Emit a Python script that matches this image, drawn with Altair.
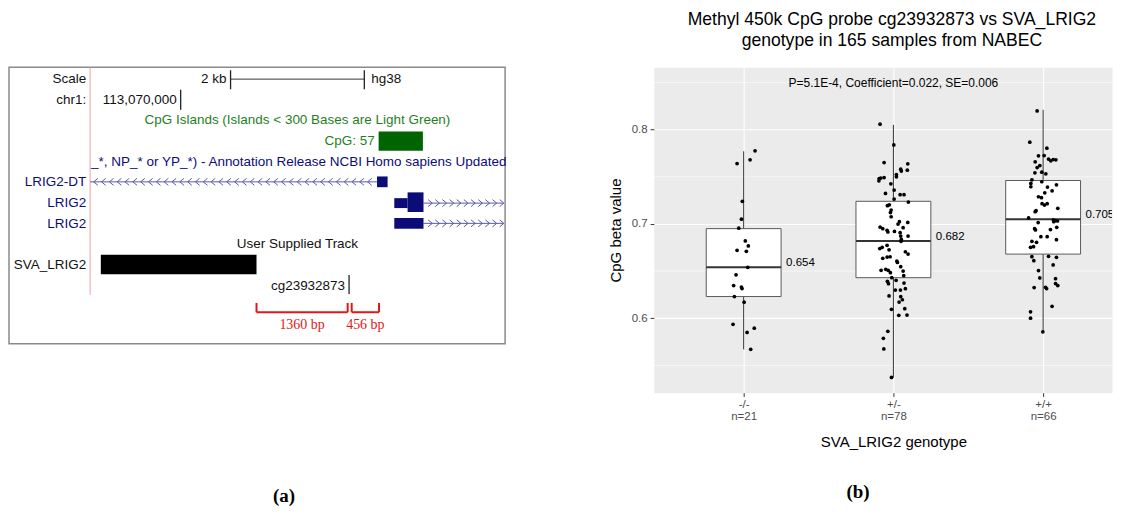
import altair as alt
import pandas as pd

# ======================= Panel (b): methylation boxplot =======================
genotypes = ["-/-", "+/-", "+/+"]
n_labels = ["n=21", "n=78", "n=66"]
q1 = [0.623, 0.643, 0.668]
medians = [0.654, 0.682, 0.705]
q3 = [0.695, 0.724, 0.746]
whisker_lo = [0.567, 0.537, 0.586]
whisker_hi = [0.777, 0.805, 0.821]
median_text = ["0.654", "0.682", "0.705"]

mm_beta = [0.7775, 0.768, 0.764, 0.724, 0.705, 0.6955, 0.682, 0.6767, 0.672, 0.671, 0.654,
           0.646, 0.6346, 0.633, 0.6315, 0.623, 0.617, 0.5936, 0.5894, 0.585, 0.567]
mm_jitter = [0.076, 0.043, -0.044, -0.009, -0.015, -0.033, 0.011, 0.031, -0.044, 0.018, 0.027,
             -0.051, -0.067, -0.015, -0.011, -0.062, 0.003, -0.071, 0.071, 0.023, 0.047]

het_beta = [0.8057, 0.7838, 0.765, 0.7637, 0.757, 0.758, 0.756, 0.7524, 0.750, 0.7481, 0.7486,
            0.7492, 0.7457, 0.7425, 0.7359, 0.7323, 0.731, 0.731, 0.7263, 0.7232, 0.7193, 0.7203,
            0.7147, 0.712, 0.7076, 0.7024, 0.7016, 0.6999, 0.696, 0.6967, 0.695, 0.6932, 0.6915,
            0.692, 0.6907, 0.6871, 0.6871, 0.6836, 0.6815, 0.6773, 0.6739, 0.6752, 0.6726, 0.6705,
            0.668, 0.6635, 0.6649, 0.6652, 0.6606, 0.6592, 0.6546, 0.6508, 0.6519, 0.6508, 0.6483,
            0.65, 0.6451, 0.643, 0.6402, 0.6391, 0.6366, 0.6373, 0.6299, 0.6299, 0.6313, 0.6236,
            0.6228, 0.6196, 0.6172, 0.6095, 0.6101, 0.6031, 0.6034, 0.5861, 0.5787, 0.5674, 0.5372]
het_jitter = [-0.089, 0.003, -0.062, 0.096, 0.093, 0.049, 0.053, 0.02, 0.02, -0.095, -0.084,
              -0.062, -0.097, -0.017, 0.005, -0.053, 0.045, 0.071, 0.005, 0.1, -0.04, -0.027,
              -0.015, -0.02, -0.015, 0.04, 0.096, 0.031, 0.065, -0.089, -0.071, -0.042, -0.037,
              0.007, 0.045, 0.049, 0.098, 0.053, 0.051, -0.042, -0.091, -0.075, -0.029, 0.08,
              0.098, -0.071, -0.042, -0.022, 0.023, 0.027, 0.049, -0.082, -0.051, -0.035, -0.02,
              0.065, 0.069, -0.011, 0.018, -0.04, -0.033, 0.071, 0.013, 0.047, 0.08, -0.029,
              0.049, 0.06, 0.038, -0.013, 0.076, 0.036, 0.091, -0.037, -0.067, -0.064, -0.013]

hom_beta = [0.8198, 0.7867, 0.7803, 0.7722, 0.7725, 0.7687, 0.7669, 0.7683, 0.768, 0.7658, 0.7619,
            0.7598, 0.7542, 0.7549, 0.7531, 0.7468, 0.7447, 0.7429, 0.7394, 0.7415, 0.7391, 0.733,
            0.7351, 0.7288, 0.7278, 0.7214, 0.72, 0.7214, 0.7165, 0.714, 0.713, 0.7063, 0.7042,
            0.7035, 0.7031, 0.7024, 0.7014, 0.695, 0.6936, 0.694, 0.6964, 0.6865, 0.6865, 0.6833,
            0.6815, 0.6805, 0.6752, 0.6759, 0.6653, 0.6656, 0.6646, 0.661, 0.6565, 0.6505, 0.6427,
            0.642, 0.6367, 0.6346, 0.6325, 0.6328, 0.6314, 0.6127, 0.6068, 0.6, 0.5856]
hom_jitter = [-0.04, -0.089, 0.025, -0.031, 0.007, 0.036, 0.051, 0.067, 0.085, -0.053, -0.022,
              -0.04, -0.055, -0.009, 0.018, -0.075, -0.009, -0.082, -0.082, 0.089, 0.029, 0.011,
              0.06, -0.031, -0.011, -0.007, 0.009, 0.027, 0.098, -0.047, -0.053, -0.097, 0.069,
              0.08, 0.096, 0.071, -0.033, -0.057, -0.051, 0.049, 0.091, -0.015, 0.027, 0.089,
              -0.075, -0.044, -0.084, -0.064, -0.075, 0.036, 0.089, -0.062, 0.067, -0.031, -0.022,
              0.083, 0.083, 0.098, -0.06, 0.016, 0.023, 0.06, -0.084, -0.084, -0.002]

stats_text = "P=5.1E-4, Coefficient=0.022, SE=0.006"
y_major = [0.6, 0.7, 0.8]
y_minor = [0.55, 0.65, 0.75, 0.85]
title_b = ["Methyl 450k CpG probe cg23932873 vs SVA_LRIG2", "genotype in 165 samples from NABEC"]
x_title_b = "SVA_LRIG2 genotype"
y_title_b = "CpG beta value"

# ======================= Panel (a): genome browser (hg38 chr1) =======================
view_range = [113067433, 113074851]
track_window = [113068646, 113074825]
scale_bar = [113070746, 113072746]
chr1_tick = 113070000
cpg_island = [113072960, 113073622]
lrig2dt_exon = [113072936, 113073094]
lrig2_utr = [113073194, 113073393]
lrig2_cds = [113073393, 113073631]
sva_insert = [113068806, 113071134]
cg_probe = 113072518
bracket_starts = [113071134, 113072557]
bracket_ends = [113072497, 113072966]
bracket_labels = ["1360 bp", "456 bp"]
# intron direction chevrons drawn by the browser (minus strand / plus strand)
chevrons_minus = list(range(113068731, 113072900, 117))
chevrons_plus = list(range(113073731, 113074830, 107))

side_labels = ["Scale", "chr1:", "LRIG2-DT", "LRIG2", "LRIG2", "SVA_LRIG2"]
scale_text = ["2 kb", "hg38"]
chr1_text = "113,070,000"
cpg_title = "CpG Islands (Islands < 300 Bases are Light Green)"
cpg_label = "CpG: 57"
refseq_title = "_*, NP_* or YP_*) - Annotation Release NCBI Homo sapiens Updated"
user_title = "User Supplied Track"
probe_label = "cg23932873"

FONT = "Liberation Sans"
NAVY = "#0C0C78"
GREEN = "#1F7F1F"
BLACK = "#111111"
RED = "#E01818"
FS_A = 13.5

# ------------------------------------------------------------------ panel (a)
xa = alt.Scale(domain=view_range, nice=False, zero=False)
ya = alt.Scale(domain=[-0.57, 12.81], nice=False, zero=False, reverse=True)


def XA(f):
    return alt.X(f, type="quantitative", scale=xa, axis=None)


def YA(f):
    return alt.Y(f, type="quantitative", scale=ya, axis=None)


feat = pd.DataFrame({
    "start": [cpg_island[0], lrig2dt_exon[0], lrig2_utr[0], lrig2_cds[0], lrig2_utr[0], sva_insert[0]],
    "end": [cpg_island[1], lrig2dt_exon[1], lrig2_utr[1], lrig2_cds[1], lrig2_cds[1], sva_insert[1]],
    "row": [3.0, 4.97, 6.0, 5.955, 6.98, 8.97],
    "half": [0.47, 0.26, 0.24, 0.475, 0.26, 0.47],
    "color": ["#006400", NAVY, NAVY, NAVY, NAVY, "#000000"],
})
feat["y1"] = feat["row"] - feat["half"]
feat["y2"] = feat["row"] + feat["half"]
rects = alt.Chart(feat).mark_rect().encode(
    x=XA("start"), x2="end", y=YA("y1"), y2="y2",
    color=alt.Color("color:N", scale=None),
)

introns = pd.DataFrame({
    "start": [track_window[0], lrig2_cds[1], lrig2_cds[1]],
    "end": [lrig2dt_exon[0], track_window[1], track_window[1]],
    "row": [4.97, 6.0, 6.98],
})
intron_lines = alt.Chart(introns).mark_rule(color="#5A5AA8", strokeWidth=1).encode(
    x=XA("start"), x2="end", y=YA("row"))

chev_l_df = pd.DataFrame({"pos": chevrons_minus, "row": [4.97] * len(chevrons_minus)})
chev_left = alt.Chart(chev_l_df).mark_point(
    shape="M0.6,-1L-0.6,0L0.6,1", filled=False, size=49, color="#5A5AA8", strokeWidth=1, opacity=1
).encode(x=XA("pos"), y=YA("row"))

chev_r_df = pd.DataFrame({"pos": chevrons_plus * 2,
                          "row": [6.0] * len(chevrons_plus) + [6.98] * len(chevrons_plus)})
chev_right = alt.Chart(chev_r_df).mark_point(
    shape="M-0.6,-1L0.6,0L-0.6,1", filled=False, size=49, color="#5A5AA8", strokeWidth=1, opacity=1
).encode(x=XA("pos"), y=YA("row"))

pink = alt.Chart(pd.DataFrame({"pos": [track_window[0]], "top": [-0.57], "bot": [10.44]})).mark_rule(
    color="#F2A0A0", strokeWidth=1).encode(x=XA("pos"), y=YA("top"), y2="bot")

sbar = alt.Chart(pd.DataFrame({"a": [scale_bar[0]], "b": [scale_bar[1]], "row": [0.0]})).mark_rule(
    color="#333333", strokeWidth=1).encode(x=XA("a"), x2="b", y=YA("row"))

vticks = pd.DataFrame({
    "pos": [scale_bar[0], scale_bar[1], chr1_tick, cg_probe],
    "top": [-0.43, -0.43, 0.52, 9.48],
    "bot": [0.49, 0.49, 1.48, 10.4],
})
vtick_lines = alt.Chart(vticks).mark_rule(color="#222222", strokeWidth=1.3).encode(
    x=XA("pos"), y=YA("top"), y2="bot")

brk = pd.DataFrame({"start": bracket_starts, "end": bracket_ends, "label": bracket_labels,
                    "top": [10.83, 10.83], "base": [11.28, 11.28], "ty": [11.88, 11.88]})
brk["mid"] = (brk["start"] + brk["end"]) / 2
brk_h = alt.Chart(brk).mark_rule(color=RED, strokeWidth=2).encode(
    x=XA("start"), x2="end", y=YA("base"))
brk_v1 = alt.Chart(brk).mark_rule(color=RED, strokeWidth=2).encode(
    x=XA("start"), y=YA("top"), y2="base")
brk_v2 = alt.Chart(brk).mark_rule(color=RED, strokeWidth=2).encode(
    x=XA("end"), y=YA("top"), y2="base")
brk_t = alt.Chart(brk).mark_text(
    font="Liberation Serif", fontSize=14, color=RED, baseline="middle").encode(
    x=XA("mid"), y=YA("ty"), text="label:N")

rlab = pd.DataFrame({
    "pos": [track_window[0], track_window[0], track_window[0], track_window[0], track_window[0],
            track_window[0], scale_bar[0], chr1_tick, cpg_island[0], cg_probe],
    "row": [0, 1, 5, 6, 7, 9, 0, 1, 3, 10],
    "text": side_labels + [scale_text[0], chr1_text, cpg_label, probe_label],
    "color": [BLACK, BLACK, NAVY, NAVY, NAVY, BLACK, BLACK, BLACK, GREEN, BLACK],
})
rtext = alt.Chart(rlab).mark_text(align="right", baseline="middle", dx=-4, font=FONT,
                                  fontSize=FS_A).encode(
    x=XA("pos"), y=YA("row"), text="text:N", color=alt.Color("color:N", scale=None))

llab = pd.DataFrame({"pos": [scale_bar[1]], "row": [0], "text": [scale_text[1]]})
ltext = alt.Chart(llab).mark_text(align="left", baseline="middle", dx=7, font=FONT, fontSize=FS_A,
                                  color=BLACK).encode(x=XA("pos"), y=YA("row"), text="text:N")
reflab = pd.DataFrame({"pos": [track_window[0]], "row": [4], "text": [refseq_title]})
reftext = alt.Chart(reflab).mark_text(align="left", baseline="middle", dx=1, font=FONT, fontSize=FS_A,
                                      color=NAVY).encode(x=XA("pos"), y=YA("row"), text="text:N")

clab = pd.DataFrame({
    "pos": [113071746, 113071746],
    "row": [2, 8],
    "text": [cpg_title, user_title],
    "color": [GREEN, BLACK],
})
ctext = alt.Chart(clab).mark_text(align="center", baseline="middle", font=FONT, fontSize=FS_A).encode(
    x=XA("pos"), y=YA("row"), text="text:N", color=alt.Color("color:N", scale=None))

panel_a = alt.layer(
    pink, intron_lines, chev_left, chev_right, rects, sbar, vtick_lines,
    brk_h, brk_v1, brk_v2, brk_t, rtext, ltext, reftext, ctext,
).properties(
    width=497, height=277,
    view=alt.ViewBackground(fill="white", stroke="#8A8A8A", strokeWidth=1.5),
    title=alt.TitleParams("(a)", orient="bottom", anchor="middle", dx=27, offset=143,
                          font="Liberation Serif", fontSize=19, fontWeight="bold", color="black"),
)

# ------------------------------------------------------------------ panel (b)
xb = alt.Scale(domain=[-0.6, 2.46], nice=False, zero=False)
yb = alt.Scale(domain=[0.521, 0.866], nice=False, zero=False)

label_expr = " : ".join(
    f"datum.value == {i} ? ['{g}', '{n}']" for i, (g, n) in enumerate(zip(genotypes, n_labels))
) + " : ''"

x_axis = alt.Axis(values=[0, 1, 2], labelExpr=label_expr, title=x_title_b, grid=True,
                  gridColor="white", gridWidth=1.1, domain=False, tickColor="#333333",
                  tickSize=3.7, tickWidth=1, labelColor="#4D4D4D", labelFontSize=11.5,
                  labelFont=FONT, labelPadding=2, labelLineHeight=12.5, titleFont=FONT,
                  titleFontSize=15, titleFontWeight="normal", titleColor="black",
                  titlePadding=12, titleX=240)
y_axis = alt.Axis(values=y_major, format=".1f", title=y_title_b, grid=True, gridColor="white",
                  gridWidth=1.1, domain=False, tickColor="#333333", tickSize=3.7, tickWidth=1,
                  labelColor="#4D4D4D", labelFontSize=11.5, labelFont=FONT, labelPadding=3,
                  titleFont=FONT, titleFontSize=15, titleFontWeight="normal",
                  titleColor="black", titlePadding=8)


def XB(f):
    return alt.X(f, type="quantitative", scale=xb, axis=x_axis)


def YB(f):
    return alt.Y(f, type="quantitative", scale=yb, axis=y_axis)


stats = pd.DataFrame({
    "idx": [0, 1, 2], "q1": q1, "med": medians, "q3": q3,
    "lo": whisker_lo, "hi": whisker_hi, "label": median_text,
})
stats["left"] = stats["idx"] - 0.25
stats["right"] = stats["idx"] + 0.25

minor = alt.Chart(pd.DataFrame({"y": y_minor})).mark_rule(color="white", strokeWidth=0.55).encode(
    y=YB("y"))
whisk = alt.Chart(stats).mark_rule(color="#333333", strokeWidth=1).encode(
    x=XB("idx"), y=YB("lo"), y2="hi")
box = alt.Chart(stats).mark_rect(fill="white", stroke="#5A5A5A", strokeWidth=1).encode(
    x=XB("left"), x2="right", y=YB("q1"), y2="q3")
med = alt.Chart(stats).mark_rule(color="#333333", strokeWidth=2).encode(
    x=XB("left"), x2="right", y=YB("med"))
med_t = alt.Chart(stats).mark_text(align="left", baseline="middle", dx=5, dy=-4, font=FONT,
                                   fontSize=11.5, color="black", clip=True).encode(
    x=XB("right"), y=YB("med"), text="label:N")

pts = pd.DataFrame({
    "idx": [0] * len(mm_beta) + [1] * len(het_beta) + [2] * len(hom_beta),
    "jitter": mm_jitter + het_jitter + hom_jitter,
    "beta": mm_beta + het_beta + hom_beta,
})
pts["xpos"] = pts["idx"] + pts["jitter"]
points = alt.Chart(pts).mark_circle(size=14, color="black", opacity=1).encode(
    x=XB("xpos"), y=YB("beta"))

annot = alt.Chart(pd.DataFrame({"idx": [1], "y": [0.849], "t": [stats_text]})).mark_text(
    font=FONT, fontSize=12, color="black", baseline="middle").encode(
    x=XB("idx"), y=YB("y"), text="t:N")

panel_b = alt.layer(minor, whisk, box, med, points, med_t, annot).properties(
    width=459, height=326,
    view=alt.ViewBackground(fill="#EBEBEB", stroke="transparent"),
    title=alt.TitleParams("(b)", orient="bottom", anchor="middle", dx=-25, offset=34,
                          font="Liberation Serif", fontSize=19, fontWeight="bold", color="black"),
)

chart = alt.hconcat(panel_a, panel_b, spacing=149, bounds="flush").properties(
    title=alt.TitleParams(title_b, anchor="middle", dx=332, offset=17, fontSize=17.6, font=FONT,
                          fontWeight="normal", color="black", lineHeight=21),
    padding={"left": 0, "top": 2, "right": 0, "bottom": 0},
).configure(background="white")

chart.save("out.html", embed_options={"renderer": "svg", "actions": False})
